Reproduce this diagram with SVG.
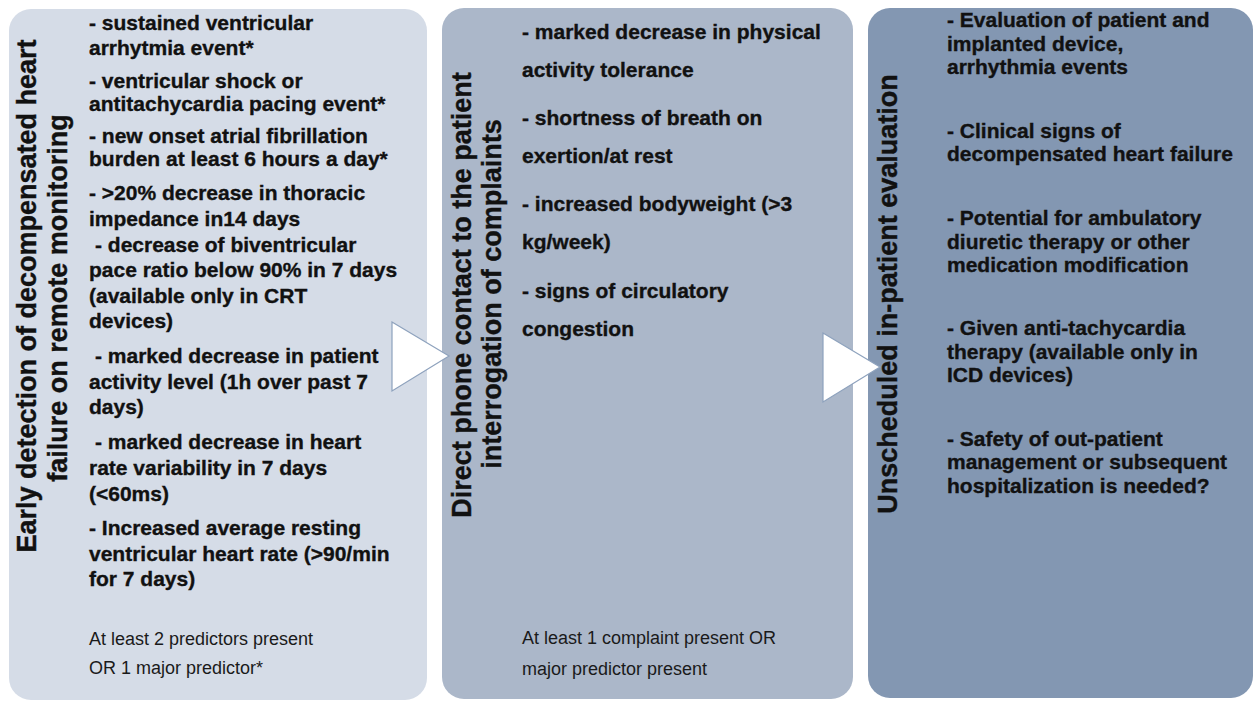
<svg xmlns="http://www.w3.org/2000/svg" width="1254" height="702" viewBox="0 0 1254 702">
<style>
.b{font-family:"Liberation Sans",Arial,sans-serif;font-weight:bold;font-size:21px;fill:#111;stroke:#111;stroke-width:0.35}
.r{font-family:"Liberation Sans",Arial,sans-serif;font-size:18px;fill:#1a1a1a}
.t{font-family:"Liberation Sans",Arial,sans-serif;font-weight:bold;font-size:27px;fill:#111;stroke:#111;stroke-width:0.4;text-anchor:middle}
.arrow{fill:#ffffff;stroke:#8ea2bd;stroke-width:1.2}
</style>
<rect width="1254" height="702" fill="#ffffff"/>
<g id="node-early-detection">
<rect x="9" y="9" width="418" height="691" rx="22" fill="#d5dce7"/>
<text class="t" transform="translate(36,296) rotate(-90)">Early detection of decompensated heart</text>
<text class="t" transform="translate(67,298) rotate(-90)">failure on remote monitoring</text>
<text class="b" x="89" y="30">- sustained ventricular</text>
<text class="b" x="89" y="55">arrhytmia event*</text>
<text class="b" x="89" y="88">- ventricular shock or</text>
<text class="b" x="89" y="111">antitachycardia pacing event*</text>
<text class="b" x="89" y="143">- new onset atrial fibrillation</text>
<text class="b" x="89" y="166">burden at least 6 hours a day*</text>
<text class="b" x="89" y="200">- &gt;20% decrease in thoracic</text>
<text class="b" x="89" y="226">impedance in14 days</text>
<text class="b" x="95" y="252">- decrease of biventricular</text>
<text class="b" x="89" y="277">pace ratio below 90% in 7 days</text>
<text class="b" x="89" y="303">(available only in CRT</text>
<text class="b" x="89" y="328">devices)</text>
<text class="b" x="95" y="363">- marked decrease in patient</text>
<text class="b" x="89" y="389">activity level (1h over past 7</text>
<text class="b" x="89" y="414">days)</text>
<text class="b" x="95" y="449">- marked decrease in heart</text>
<text class="b" x="89" y="475">rate variability in 7 days</text>
<text class="b" x="89" y="501">(&lt;60ms)</text>
<text class="b" x="89" y="535">- Increased average resting</text>
<text class="b" x="89" y="561">ventricular heart rate (&gt;90/min</text>
<text class="b" x="89" y="586">for 7 days)</text>
<text class="r" x="89" y="645">At least 2 predictors present</text>
<text class="r" x="89" y="674">OR 1 major predictor*</text>
</g>
<g id="node-phone-contact">
<rect x="442" y="8" width="411" height="691" rx="22" fill="#abb7c9"/>
<text class="t" transform="translate(471,295) rotate(-90)">Direct phone contact to the patient</text>
<text class="t" transform="translate(501,294) rotate(-90)">interrogation of complaints</text>
<text class="b" x="522" y="39">- marked decrease in physical</text>
<text class="b" x="522" y="77">activity tolerance</text>
<text class="b" x="522" y="125">- shortness of breath on</text>
<text class="b" x="522" y="163">exertion/at rest</text>
<text class="b" x="522" y="211">- increased bodyweight (&gt;3</text>
<text class="b" x="522" y="249">kg/week)</text>
<text class="b" x="522" y="298">- signs of circulatory</text>
<text class="b" x="522" y="336">congestion</text>
<text class="r" x="522" y="644">At least 1 complaint present OR</text>
<text class="r" x="522" y="675">major predictor present</text>
</g>
<g id="node-inpatient-evaluation">
<rect x="868" y="8" width="385" height="690" rx="22" fill="#8397b2"/>
<text class="t" transform="translate(897,294) rotate(-90)">Unscheduled in-patient evaluation</text>
<text class="b" x="947" y="27">- Evaluation of patient and</text>
<text class="b" x="947" y="51">implanted device,</text>
<text class="b" x="947" y="74">arrhythmia events</text>
<text class="b" x="947" y="138">- Clinical signs of</text>
<text class="b" x="947" y="161">decompensated heart failure</text>
<text class="b" x="947" y="225">- Potential for ambulatory</text>
<text class="b" x="947" y="249">diuretic therapy or other</text>
<text class="b" x="947" y="272">medication modification</text>
<text class="b" x="947" y="335">- Given anti-tachycardia</text>
<text class="b" x="947" y="359">therapy (available only in</text>
<text class="b" x="947" y="382">ICD devices)</text>
<text class="b" x="947" y="446">- Safety of out-patient</text>
<text class="b" x="947" y="469">management or subsequent</text>
<text class="b" x="947" y="493">hospitalization is needed?</text>
</g>
<g id="connectors">
<polygon class="arrow" points="392,322 449,356 392,391"/>
<polygon class="arrow" points="823,333 880,367 823,402"/>
</g>
</svg>
